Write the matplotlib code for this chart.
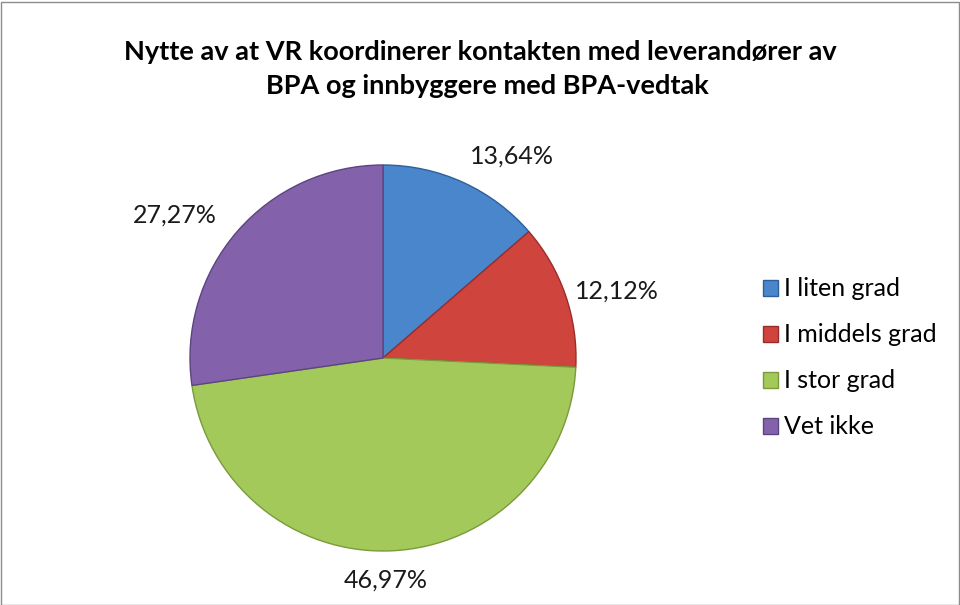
import matplotlib.pyplot as plt
from matplotlib.patches import Rectangle
import numpy as np

# data
categories = ["I liten grad", "I middels grad", "I stor grad", "Vet ikke"]
shares = [13.64, 12.12, 46.97, 27.27]
pct_labels = ["13,64%", "12,12%", "46,97%", "27,27%"]

colors = ["#4a86cc", "#d0443e", "#a3c95a", "#8462ab"]
edges = ["#2f5f98", "#9a2d29", "#7a9a3c", "#5c4480"]
# label distance (in radii) and angle nudge (deg) per slice
label_dist = [1.24, 1.26, 1.15, 1.31]
label_nudge = [-8, -3, -2, 6.4]

plt.rcParams["font.family"] = ["Lato", "DejaVu Sans"]

W, H = 960, 605
fig = plt.figure(figsize=(W / 100, H / 100), dpi=100)
fig.patch.set_facecolor("white")
fig.add_artist(Rectangle((0.5 / W, 0.5 / H), 1 - 2 / W, 1 - 2 / H,
                         transform=fig.transFigure, fill=False,
                         edgecolor="#8c8c8c", linewidth=1))

cx, cy, r = 383, 358, 193
ax = fig.add_axes([(cx - r) / W, (H - cy - r) / H, 2 * r / W, 2 * r / H])

wedges, _ = ax.pie(shares, colors=colors, startangle=90, counterclock=False,
                   radius=1, wedgeprops=dict(linewidth=1.0))
for w, ec in zip(wedges, edges):
    w.set_edgecolor(ec)
ax.set_xlim(-1, 1)
ax.set_ylim(-1, 1)
ax.set_aspect("equal")
ax.axis("off")

for w, lab, d, nd in zip(wedges, pct_labels, label_dist, label_nudge):
    ang = np.deg2rad((w.theta1 + w.theta2) / 2 + nd)
    ax.text(d * np.cos(ang), d * np.sin(ang), lab, ha="center", va="center",
            fontsize=18, color="#1a1a1a", clip_on=False)

fig.text(0.5, 1 - 52 / H, "Nytte av at VR koordinerer kontakten med leverandører av",
         ha="center", va="center", fontsize=19.5, fontweight="bold")
fig.text(0.508, 1 - 86 / H, "BPA og innbyggere med BPA-vedtak",
         ha="center", va="center", fontsize=19.5, fontweight="bold")

leg = fig.legend(wedges, categories, loc="upper left",
                 bbox_to_anchor=(750 / W, 1 - 265 / H), frameon=False,
                 fontsize=18, handlelength=0.6, handleheight=0.6,
                 handletextpad=0.25, labelspacing=0.92, borderpad=0)

fig.savefig("out.png", dpi=100)
